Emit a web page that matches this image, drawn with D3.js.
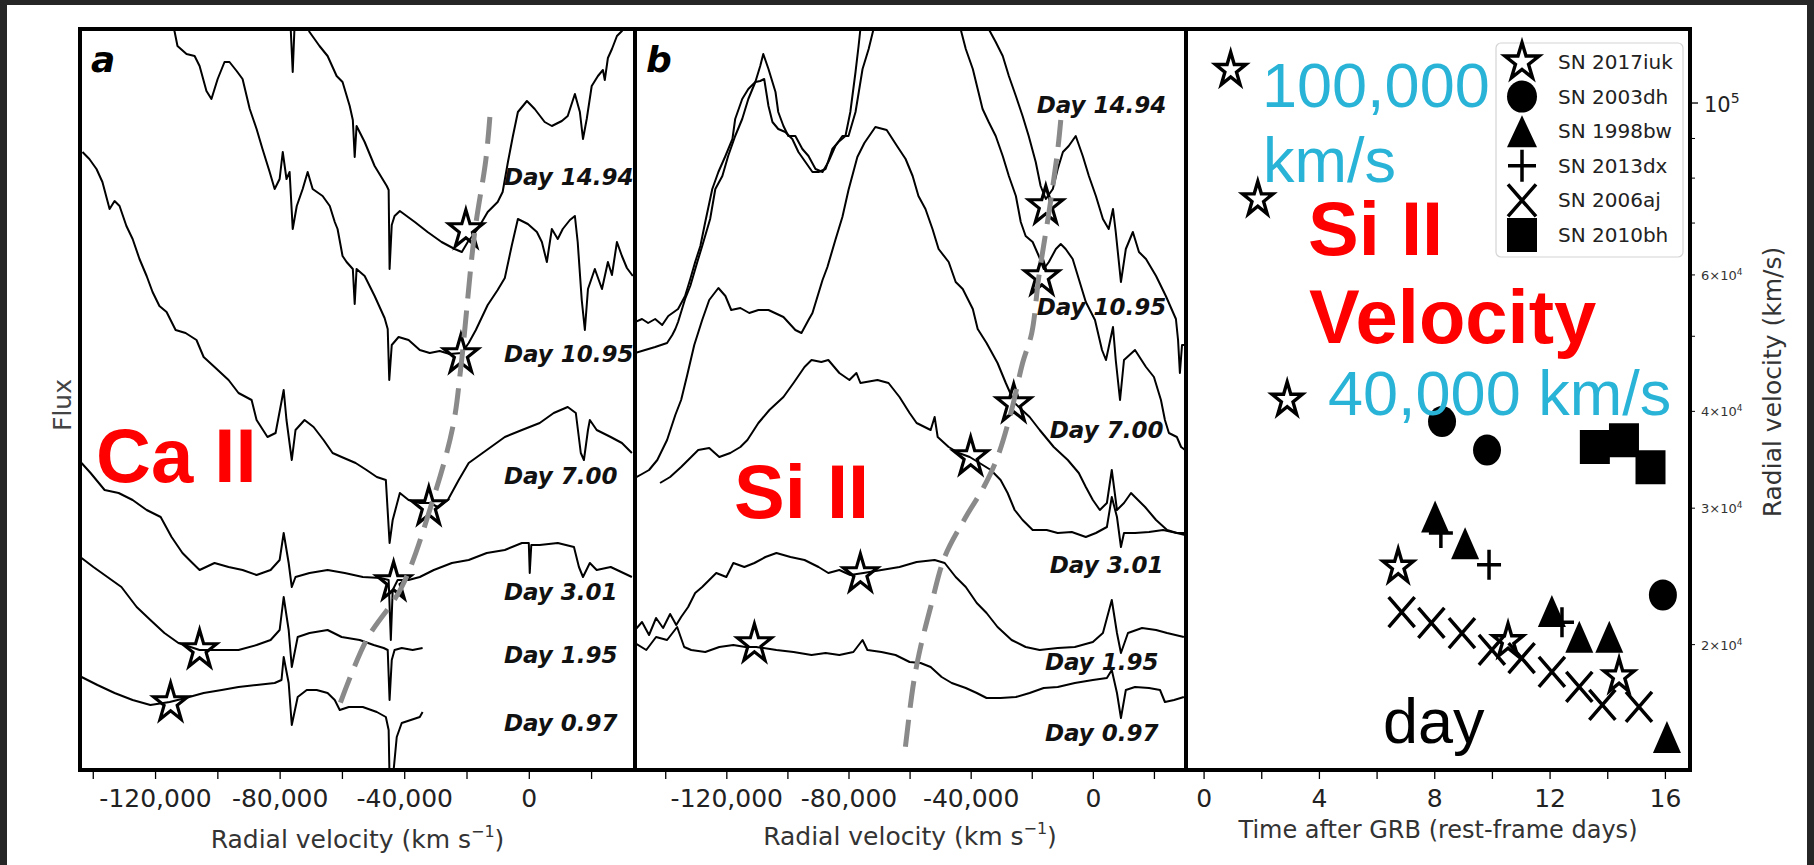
<!DOCTYPE html>
<html><head><meta charset="utf-8">
<script src="https://cdn.jsdelivr.net/npm/d3@7"></script>
<style>html,body{margin:0;padding:0;background:#fff;}svg{display:block;}</style>
</head><body>
<svg id="chart" width="1814" height="865"></svg>
<script>
// ===== DATA (velocity in 10^3 km/s, flux in arbitrary offset units) =====
// Panel a : Ca II
const caII_day1494 = [[-78.4,7.50],[-76.5,7.45],[-75.8,6.98],[-75.2,7.45],[-72.0,7.50],[-70.4,7.38],[-67.2,7.24],[-64.6,7.14],[-61.7,6.94],[-59.8,6.88],[-57.5,6.64],[-56.5,6.50],[-55.9,6.13],[-55.3,6.44],[-52.7,6.28],[-49.5,6.04],[-45.6,5.84],[-45.0,5.80],[-44.7,5.01],[-44.0,5.45],[-43.1,5.54],[-41.4,5.59],[-36.6,5.48],[-32.5,5.38],[-28.0,5.28],[-23.8,5.21],[-21.5,5.18],[-19.6,5.28],[-16.4,5.41],[-13.2,5.58],[-10.0,5.68],[-8.4,5.78],[-6.7,6.08],[-5.1,6.34],[-3.5,6.58],[-0.6,6.69],[1.9,6.61],[5.1,6.48],[7.4,6.44],[10.6,6.49],[12.5,6.54],[14.8,6.76],[16.4,6.58],[17.4,6.31],[18.6,6.51],[20.2,6.84],[22.2,6.94],[23.8,7.00],[24.4,6.90],[25.4,7.12],[26.7,7.21],[28.3,7.34],[29.9,7.39],[31.8,7.50]];
const caII_day1095 = [[-114.7,7.50],[-113.7,7.38],[-112.8,7.24],[-109.9,7.16],[-107.3,7.14],[-105.7,7.04],[-103.5,6.79],[-101.9,6.71],[-99.9,6.91],[-97.7,7.08],[-96.1,7.08],[-93.8,6.99],[-91.9,6.91],[-89.6,6.61],[-87.4,6.41],[-85.5,6.21],[-83.2,5.98],[-81.6,5.81],[-80.0,5.91],[-79.0,6.18],[-77.8,5.91],[-76.8,5.98],[-75.8,5.41],[-74.5,5.64],[-72.6,5.81],[-71.0,5.98],[-69.4,5.81],[-66.2,5.74],[-63.9,5.64],[-62.3,5.48],[-61.4,5.41],[-59.8,5.14],[-58.5,5.08],[-56.5,5.01],[-55.9,4.66],[-55.3,5.01],[-52.7,4.94],[-49.5,4.74],[-46.3,4.52],[-45.3,4.41],[-44.8,3.90],[-44.0,4.25],[-41.8,4.33],[-38.6,4.30],[-35.0,4.20],[-31.8,4.17],[-28.6,4.19],[-25.4,4.16],[-21.5,4.17],[-19.3,4.27],[-17.0,4.40],[-13.2,4.65],[-10.0,4.80],[-7.7,4.92],[-5.5,5.24],[-3.5,5.51],[-0.3,5.46],[2.6,5.38],[4.2,5.28],[5.8,5.08],[7.4,5.41],[9.3,5.31],[10.9,5.41],[13.2,5.50],[14.8,5.54],[15.7,5.28],[17.0,4.70],[18.0,4.40],[19.0,4.81],[21.2,5.01],[23.5,4.81],[25.4,5.08],[26.7,4.95],[28.3,5.28],[29.9,5.14],[31.5,5.02],[33.4,4.94]];
const caII_day700 = [[-143.3,6.18],[-141.1,6.11],[-138.8,6.01],[-136.9,5.88],[-134.6,5.61],[-133.0,5.69],[-131.4,5.64],[-129.2,5.44],[-127.2,5.31],[-125.0,5.11],[-122.7,4.94],[-120.8,4.78],[-118.6,4.64],[-116.3,4.58],[-113.4,4.40],[-110.2,4.37],[-106.7,4.30],[-104.4,4.13],[-100.9,4.03],[-96.4,3.90],[-93.2,3.77],[-89.0,3.70],[-87.4,3.50],[-83.9,3.33],[-81.3,3.37],[-78.7,3.80],[-77.8,3.50],[-76.1,3.10],[-74.9,3.40],[-72.0,3.50],[-69.1,3.43],[-65.9,3.30],[-63.0,3.17],[-60.1,3.13],[-55.6,3.07],[-52.1,3.00],[-48.8,2.93],[-45.9,2.90],[-44.7,2.27],[-43.7,2.50],[-41.4,2.77],[-38.6,2.70],[-35.0,2.67],[-31.8,2.67],[-29.2,2.63],[-26.0,2.70],[-22.5,2.90],[-19.3,3.07],[-13.5,3.20],[-7.7,3.33],[-2.2,3.40],[3.5,3.47],[8.0,3.57],[12.5,3.63],[15.1,3.57],[16.7,3.17],[17.7,3.10],[19.0,3.40],[19.6,3.50],[21.8,3.40],[26.3,3.33],[29.9,3.27],[33.1,3.17]];
const caII_day301 = [[-143.6,3.07],[-140.7,2.97],[-136.2,2.80],[-131.7,2.77],[-127.2,2.70],[-122.7,2.60],[-118.2,2.53],[-114.7,2.33],[-111.2,2.17],[-108.0,2.07],[-105.7,2.00],[-100.9,2.07],[-96.4,2.03],[-91.9,2.00],[-87.4,1.95],[-82.9,2.00],[-80.0,2.10],[-78.7,2.37],[-77.1,2.07],[-76.1,1.83],[-74.9,1.93],[-70.4,1.97],[-64.6,2.00],[-59.1,1.97],[-53.3,1.93],[-47.6,1.92],[-45.0,1.90],[-44.3,1.30],[-43.7,1.80],[-42.1,1.90],[-38.6,1.90],[-35.0,1.93],[-30.5,2.00],[-24.7,2.07],[-19.3,2.10],[-13.5,2.17],[-7.7,2.20],[-2.2,2.27],[0.0,2.27],[0.3,1.97],[0.8,2.25],[3.5,2.25],[9.3,2.27],[14.5,2.23],[16.1,2.03],[17.4,1.93],[19.6,2.07],[21.8,2.00],[26.3,2.03],[33.1,1.93]];
const caII_day195 = [[-143.6,2.12],[-139.8,2.03],[-135.3,1.93],[-130.8,1.83],[-125.9,1.63],[-121.5,1.50],[-117.0,1.37],[-112.5,1.27],[-105.7,1.20],[-98.6,1.20],[-93.2,1.20],[-87.4,1.25],[-82.9,1.30],[-80.0,1.40],[-78.7,1.73],[-77.1,1.40],[-76.1,1.03],[-74.2,1.33],[-70.4,1.37],[-64.6,1.40],[-60.1,1.33],[-54.3,1.30],[-49.8,1.25],[-46.6,1.22],[-45.3,1.20],[-44.7,0.70],[-44.0,1.10],[-43.1,1.20],[-40.8,1.22],[-37.3,1.20],[-34.1,1.22]];
const caII_day097 = [[-143.6,0.93],[-138.5,0.85],[-133.0,0.77],[-127.2,0.70],[-121.5,0.65],[-115.3,0.68],[-110.2,0.72],[-104.4,0.77],[-98.6,0.80],[-93.2,0.83],[-87.4,0.85],[-81.6,0.87],[-79.4,0.90],[-78.7,1.13],[-77.1,0.87],[-76.1,0.45],[-74.2,0.73],[-71.3,0.80],[-68.1,0.80],[-64.6,0.77],[-62.3,0.70],[-60.7,0.60],[-57.8,0.63],[-53.3,0.63],[-48.8,0.58],[-45.9,0.53],[-45.0,0.40],[-44.7,-0.10],[-43.7,-0.10],[-42.4,0.33],[-40.8,0.47],[-37.9,0.50],[-35.0,0.53],[-34.1,0.58]];
const caII_minima = [[-20.2,5.40],[-21.8,4.15],[-32.1,2.63],[-43.4,1.88],[-105.7,1.20],[-115.0,0.67]];
const caII_fit = [[-12.5,6.53],[-13.8,6.10],[-17.4,5.37],[-21.8,4.03],[-24.4,3.43],[-30.8,2.70],[-40.8,1.83],[-52.1,1.30],[-61.0,0.63]];
const caII_labelPos = [[-8.0,5.85],[-8.0,4.08],[-8.0,2.86],[-8.0,1.70],[-8.0,1.07],[-8.0,0.39]];

// Panel b : Si II
const siII_day1494 = [[-149.9,4.17],[-146.6,4.20],[-143.3,4.23],[-139.4,4.27],[-137.7,4.35],[-136.7,4.41],[-135.8,4.48],[-133.5,4.71],[-131.8,4.84],[-129.5,5.08],[-127.9,5.24],[-125.3,5.51],[-123.6,5.81],[-121.3,5.94],[-119.4,6.14],[-117.1,6.34],[-114.8,6.51],[-112.8,6.71],[-110.5,6.88],[-108.9,7.04],[-107.9,7.16],[-106.2,7.01],[-103.9,6.78],[-103.0,6.58],[-101.3,6.44],[-99.7,6.34],[-97.4,6.34],[-95.1,6.21],[-93.1,6.14],[-90.8,6.01],[-88.5,5.98],[-86.6,6.08],[-84.3,6.24],[-82.0,6.34],[-80.0,6.34],[-77.7,6.58],[-75.4,7.01],[-73.4,7.21],[-71.8,7.41],[-70.8,7.55],[-53.1,8.70],[-35.1,7.55],[-34.1,7.41],[-31.8,7.28],[-29.5,7.14],[-27.5,6.94],[-25.2,6.74],[-23.0,6.54],[-21.0,6.34],[-18.7,6.08],[-17.1,5.84],[-15.4,5.71],[-13.1,5.81],[-11.5,6.01],[-9.8,6.18],[-7.9,6.24],[-5.6,6.34],[-3.3,6.14],[-1.3,5.94],[1.0,5.74],[3.3,5.51],[5.2,5.41],[6.6,5.61],[7.5,5.38],[9.2,4.88],[10.8,5.21],[13.1,5.38],[15.1,5.18],[17.4,5.11],[20.7,4.94],[23.9,4.74],[27.2,4.51],[27.9,4.30],[28.5,3.97],[29.2,4.25],[30.2,4.25]];
const siII_day1095 = [[-149.9,4.48],[-147.6,4.51],[-145.6,4.47],[-143.3,4.51],[-141.0,4.45],[-139.0,4.54],[-135.8,4.61],[-133.5,4.74],[-131.8,4.91],[-130.2,5.08],[-128.5,5.24],[-126.9,5.48],[-124.6,5.81],[-122.6,5.98],[-120.3,6.14],[-118.0,6.31],[-117.1,6.51],[-114.8,6.71],[-112.8,6.81],[-110.5,6.88],[-108.9,6.89],[-107.6,6.91],[-106.2,6.64],[-104.9,6.48],[-103.0,6.41],[-100.7,6.38],[-98.4,6.31],[-96.4,6.18],[-94.1,6.08],[-91.8,5.98],[-89.8,5.98],[-87.5,6.01],[-85.3,6.21],[-83.3,6.28],[-81.0,6.34],[-79.4,6.58],[-77.7,6.98],[-76.7,7.24],[-76.1,7.41],[-75.4,7.55],[-59.7,8.70],[-44.3,7.55],[-43.3,7.41],[-41.6,7.21],[-39.3,7.01],[-37.7,6.81],[-36.1,6.61],[-34.1,6.48],[-31.8,6.34],[-29.5,6.14],[-27.5,5.94],[-25.2,5.74],[-23.6,5.48],[-22.0,5.34],[-19.7,5.28],[-17.7,5.14],[-16.1,5.01],[-14.4,5.08],[-12.1,5.21],[-10.5,5.26],[-8.9,5.21],[-6.6,5.11],[-4.6,4.91],[-2.3,4.68],[0.7,4.50],[3.0,4.20],[4.3,4.10],[6.6,4.43],[7.5,4.10],[8.9,3.70],[10.2,4.10],[13.8,4.20],[17.4,4.03],[20.0,3.93],[22.3,3.70],[23.6,3.50],[24.9,3.37],[27.5,3.33],[28.9,3.23],[30.2,3.20]];
const siII_day700 = [[-149.9,2.92],[-147.6,2.96],[-145.3,3.00],[-142.6,3.10],[-139.4,3.30],[-136.7,3.55],[-134.8,3.70],[-132.8,3.95],[-130.5,4.25],[-127.9,4.50],[-125.6,4.70],[-123.6,4.78],[-122.6,4.82],[-120.3,4.74],[-118.4,4.60],[-115.4,4.62],[-112.5,4.57],[-109.5,4.60],[-106.2,4.60],[-101.3,4.53],[-97.4,4.40],[-95.4,4.37],[-93.1,4.50],[-91.8,4.57],[-88.5,4.90],[-86.9,5.03],[-84.3,5.30],[-82.0,5.53],[-80.0,5.80],[-77.1,6.13],[-74.8,6.27],[-71.2,6.43],[-67.5,6.40],[-63.9,6.23],[-61.3,6.11],[-59.0,5.94],[-57.1,5.74],[-54.8,5.61],[-52.5,5.41],[-50.5,5.21],[-47.2,5.08],[-44.9,4.88],[-42.6,4.81],[-39.3,4.61],[-37.7,4.41],[-34.8,4.27],[-31.2,4.07],[-28.5,3.87],[-25.6,3.67],[-20.7,3.53],[-17.4,3.40],[-12.8,3.23],[-8.2,3.10],[-4.6,2.97],[-2.3,2.83],[0.0,2.70],[2.3,2.60],[4.6,2.67],[6.2,3.00],[7.9,2.60],[10.2,2.67],[12.5,2.77],[13.8,2.73],[17.1,2.63],[20.7,2.50],[24.3,2.40],[27.5,2.37],[30.2,2.37]];
const siII_day301 = [[-141.7,2.87],[-138.4,2.93],[-134.8,3.03],[-131.5,3.13],[-129.2,3.20],[-125.6,3.22],[-122.3,3.13],[-118.7,3.17],[-115.4,3.23],[-113.1,3.30],[-109.5,3.47],[-105.9,3.60],[-101.3,3.73],[-98.0,3.87],[-94.4,4.03],[-92.1,4.10],[-88.9,4.08],[-86.6,4.10],[-83.0,3.97],[-79.7,3.90],[-77.4,3.97],[-76.1,3.87],[-70.5,3.90],[-66.9,3.87],[-63.3,3.73],[-60.0,3.57],[-57.7,3.47],[-53.1,3.40],[-51.8,3.53],[-50.8,3.33],[-47.2,3.23],[-43.9,3.17],[-40.3,3.13],[-37.1,3.07],[-33.4,3.00],[-30.2,2.90],[-27.9,2.77],[-25.6,2.60],[-23.0,2.50],[-19.7,2.40],[-15.1,2.40],[-11.5,2.37],[-6.9,2.38],[-2.3,2.33],[1.0,2.37],[4.6,2.43],[6.2,2.73],[7.9,2.53],[9.2,2.23],[10.2,2.37],[13.8,2.37],[18.4,2.38],[23.0,2.40],[27.5,2.37],[30.2,2.35]];
const siII_day195 = [[-149.9,1.40],[-147.6,1.48],[-145.3,1.35],[-143.0,1.52],[-140.7,1.42],[-138.4,1.56],[-136.4,1.45],[-134.8,1.53],[-132.5,1.63],[-130.2,1.77],[-127.9,1.83],[-125.6,1.90],[-123.3,1.97],[-120.0,1.93],[-117.7,2.07],[-114.1,2.03],[-110.8,2.07],[-107.2,2.13],[-103.6,2.17],[-99.0,2.13],[-94.4,2.10],[-89.8,2.03],[-86.6,1.97],[-83.0,2.00],[-79.4,1.95],[-75.1,1.97],[-69.2,2.00],[-63.3,2.03],[-57.7,2.08],[-51.8,2.10],[-48.5,2.07],[-44.9,1.93],[-41.6,1.83],[-38.0,1.67],[-34.8,1.57],[-31.2,1.43],[-26.6,1.30],[-22.0,1.23],[-17.4,1.20],[-11.5,1.22],[-5.9,1.23],[0.0,1.28],[3.3,1.37],[6.2,1.70],[7.9,1.37],[9.2,1.17],[11.5,1.37],[16.1,1.42],[20.7,1.40],[24.3,1.37],[29.8,1.33]];
const siII_day097 = [[-149.9,1.27],[-146.2,1.20],[-143.0,1.33],[-139.4,1.30],[-136.1,1.43],[-133.8,1.23],[-131.5,1.20],[-126.9,1.18],[-122.3,1.23],[-117.7,1.25],[-113.8,1.23],[-110.2,1.23],[-103.6,1.20],[-98.0,1.18],[-92.1,1.15],[-87.5,1.17],[-83.0,1.15],[-78.4,1.18],[-75.4,1.30],[-73.8,1.20],[-69.2,1.18],[-64.6,1.15],[-60.0,1.08],[-56.4,1.07],[-53.1,1.03],[-49.5,0.93],[-46.2,0.87],[-41.6,0.82],[-38.0,0.77],[-34.8,0.72],[-30.2,0.72],[-25.2,0.73],[-20.7,0.77],[-16.1,0.82],[-11.5,0.83],[-5.9,0.87],[0.0,0.90],[4.6,0.92],[6.2,1.00],[7.9,0.77],[9.2,0.52],[10.8,0.80],[13.8,0.83],[18.4,0.82],[22.0,0.80],[23.6,0.68],[26.6,0.70],[29.8,0.73]];
const siII_minima = [[-15.4,5.64],[-16.7,4.93],[-25.9,3.66],[-40.0,3.13],[-76.1,1.96],[-110.8,1.26]];
const siII_fit = [[-10.5,6.50],[-11.5,6.20],[-14.1,5.63],[-17.7,4.93],[-20.0,4.37],[-23.0,4.07],[-26.6,3.60],[-31.2,3.13],[-35.7,2.83],[-41.6,2.53],[-48.5,2.13],[-53.1,1.63],[-56.4,1.23],[-58.7,0.87],[-61.6,0.17]];
const siII_labelPos = [[-18.4,6.57],[-18.4,4.55],[-14.1,3.32],[-14.1,1.97],[-15.7,1.00],[-15.7,0.29]];

const dayLabels = ["Day 14.94","Day 10.95","Day 7.00","Day 3.01","Day 1.95","Day 0.97"];

// Panel c : Si II velocity vs rest-frame time [days, km/s]
const sn2017iuk = [[0.94,110300],[1.88,75100],[2.90,41400],[6.75,25200],[10.56,20200],[14.41,18200]];
const sn2003dh  = [[8.27,38800],[9.83,35650],[15.93,23180]];
const sn1998bw  = [[8.03,29260],[9.07,27040],[12.08,22110],[13.03,20470],[14.07,20470],[16.07,15200]];
const sn2013dx  = [[8.23,27860],[9.90,25360],[12.43,21380]];
const sn2006aj  = [[6.87,22030],[7.90,21330],[8.96,20700],[10.00,19690],[11.03,19220],[12.08,18440],[13.03,17640],[13.83,16720],[15.10,16620]];
const sn2010bh  = [[13.57,35970],[14.58,36700],[15.50,33880]];
const legendNames = ["SN 2017iuk","SN 2003dh","SN 1998bw","SN 2013dx","SN 2006aj","SN 2010bh"];

// Ticks
const velocityTicks = [-140,-120,-100,-80,-60,-40,-20,0,20];
const velocityTickLabels = [-120,-80,-40,0];
const dayTicks = [0,2,4,6,8,10,12,14,16];
const dayTickLabels = [0,4,8,12,16];
const radVelMajor = [100000];
const radVelMinor = [20000,30000,40000,50000,60000,70000,80000,90000];
const radVelMinorLabeled = [20000,30000,40000,60000];

// ===== DRAWING =====
const FONT = "'DejaVu Sans', sans-serif";
const ARIAL = "'Liberation Sans', Arial, sans-serif";
const svg = d3.select("#chart");
svg.append("rect").attr("width",1814).attr("height",865).attr("fill","#fff");
// dark frame of the screenshot
svg.append("rect").attr("x",0).attr("y",0).attr("width",1814).attr("height",5).attr("fill","#262626");
svg.append("rect").attr("x",0).attr("y",0).attr("width",7).attr("height",865).attr("fill","#262626");
svg.append("rect").attr("x",1807).attr("y",0).attr("width",7).attr("height",865).attr("fill","#262626");

const top0 = 29, bot0 = 770;
const yFlux = d3.scaleLinear().domain([0,7.41]).range([bot0, top0]);
const xA = d3.scaleLinear().domain([-144.1,34.1]).range([80,635]);
const xB = d3.scaleLinear().domain([-149.9,30.5]).range([635,1186]);
const xC = d3.scaleLinear().domain([-0.61,16.87]).range([1186,1690]);
const yC = d3.scaleLog().domain([13780,124600]).range([bot0, top0]);

const defs = svg.append("defs");
function addClip(id, x){ const r = x.range(); defs.append("clipPath").attr("id",id).append("rect").attr("x",r[0]).attr("y",top0).attr("width",r[1]-r[0]).attr("height",bot0-top0); }
addClip("clipA", xA); addClip("clipB", xB); addClip("clipC", xC);

function starPath(R, sy){
  const r = R*0.381966, pts=[];
  for(let i=0;i<10;i++){ const a=-Math.PI/2+i*Math.PI/5, rr=(i%2)?r:R; pts.push([rr*Math.cos(a), rr*Math.sin(a)*sy]); }
  return "M"+pts.map(p=>p[0].toFixed(2)+","+p[1].toFixed(2)).join("L")+"Z";
}

function spectraPanel(clipId, x, spectra, minima, fit, labelPos, letter){
  const g = svg.append("g").attr("clip-path",`url(#${clipId})`);
  const line = d3.line().x(d=>x(d[0])).y(d=>yFlux(d[1]));
  g.selectAll(null).data(spectra).join("path").attr("d",line)
    .attr("fill","none").attr("stroke","#000").attr("stroke-width",2).attr("stroke-linejoin","round");
  g.selectAll(null).data(minima).join("path").attr("d",starPath(18,1.12))
    .attr("transform",d=>`translate(${x(d[0])},${yFlux(d[1])})`)
    .attr("fill","none").attr("stroke","#000").attr("stroke-width",3.2).attr("stroke-linejoin","miter");
  const fitLine = d3.line().curve(d3.curveCatmullRom).x(d=>x(d[0])).y(d=>yFlux(d[1]));
  g.append("path").datum(fit).attr("d",fitLine).attr("fill","none")
    .attr("stroke","#8a8a8a").attr("stroke-width",5).attr("stroke-dasharray","27,12");
  svg.selectAll(null).data(labelPos).join("text")
    .attr("x",d=>x(d[0])).attr("y",d=>yFlux(d[1]))
    .attr("font-family",FONT).attr("font-weight","bold").attr("font-style","italic")
    .attr("font-size",23).attr("fill","#111").text((d,i)=>dayLabels[i]);
  const r = x.range();
  svg.append("text").attr("x",r[0]+11).attr("y",72).attr("font-family",FONT)
    .attr("font-weight","bold").attr("font-style","italic").attr("font-size",36).attr("fill","#000").text(letter);
}

spectraPanel("clipA", xA, [caII_day1494,caII_day1095,caII_day700,caII_day301,caII_day195,caII_day097], caII_minima, caII_fit, caII_labelPos, "a");
spectraPanel("clipB", xB, [siII_day1494,siII_day1095,siII_day700,siII_day301,siII_day195,siII_day097], siII_minima, siII_fit, siII_labelPos, "b");

// ---- Panel c markers
const shapes = {
  star:  {d: starPath(16,1.12), fill:"none", sw:3.4},
  circle:{d: "M-14,0A14,15.5 0 1,0 14,0A14,15.5 0 1,0 -14,0Z", fill:"#000", sw:0},
  tri:   {d: "M0,-16L-14,16L14,16Z", fill:"#000", sw:0},
  plus:  {d: "M-12,0H12M0,-15V15", fill:"none", sw:3.5},
  cross: {d: "M-13,-15L13,15M-13,15L13,-15", fill:"none", sw:3.5},
  square:{d: "M-15,-17H15V17H-15Z", fill:"#000", sw:0}
};
const seriesC = [[sn2017iuk,shapes.star],[sn2003dh,shapes.circle],[sn1998bw,shapes.tri],[sn2013dx,shapes.plus],[sn2006aj,shapes.cross],[sn2010bh,shapes.square]];
const gC = svg.append("g").attr("clip-path","url(#clipC)");
seriesC.forEach(([data,sh])=>{
  gC.selectAll(null).data(data).join("path").attr("d",sh.d)
    .attr("transform",d=>`translate(${xC(d[0])},${yC(d[1])})`)
    .attr("fill",sh.fill).attr("stroke","#000").attr("stroke-width",sh.sw);
});
// legend
const leg = svg.append("g");
leg.append("rect").attr("x",1496).attr("y",43).attr("width",187).attr("height",214).attr("rx",5)
  .attr("fill","#fff").attr("fill-opacity",0.85).attr("stroke","#d4d4d4").attr("stroke-width",1.2);
const legShapes = [
  {d: starPath(18,1.08), fill:"none", sw:3.4},
  {d: "M-15,0A15,16 0 1,0 15,0A15,16 0 1,0 -15,0Z", fill:"#000", sw:0},
  {d: "M0,-16L-15,16L15,16Z", fill:"#000", sw:0},
  {d: "M-14,0H14M0,-16V16", fill:"none", sw:3.5},
  {d: "M-14,-16L14,16M-14,16L14,-16", fill:"none", sw:3.5},
  {d: "M-15,-17H15V17H-15Z", fill:"#000", sw:0}
];
legendNames.forEach((nm,i)=>{
  const yy = 62 + i*34.6;
  leg.append("path").attr("d",legShapes[i].d).attr("transform",`translate(1522,${yy})`)
    .attr("fill",legShapes[i].fill).attr("stroke","#000").attr("stroke-width",legShapes[i].sw);
  leg.append("text").attr("x",1558).attr("y",yy).attr("dominant-baseline","central")
    .attr("font-family",FONT).attr("font-size",20).attr("fill","#222").text(nm);
});

// ---- Panel borders
[xA,xB,xC].forEach(x=>{
  const r=x.range();
  svg.append("rect").attr("x",r[0]).attr("y",top0).attr("width",r[1]-r[0]).attr("height",bot0-top0)
    .attr("fill","none").attr("stroke","#000").attr("stroke-width",4);
});

// ---- X axes
const velFmt = v => v===0 ? "0" : "-" + d3.format(",")(Math.abs(v*1000));
function xAxis(scale, ticks, labeled, fmt){
  const ax = d3.axisBottom(scale).tickValues(ticks).tickSize(9).tickFormat(d => labeled.includes(d) ? fmt(d) : "");
  const g = svg.append("g").attr("transform",`translate(0,${bot0})`).call(ax);
  g.select(".domain").remove();
  g.selectAll(".tick line").attr("stroke","#000").attr("stroke-width",1.3);
  g.selectAll(".tick text").attr("font-family",FONT).attr("font-size",25).attr("fill","#222")
    .attr("dy",null).attr("y",37);
}
xAxis(xA, velocityTicks, velocityTickLabels, velFmt);
xAxis(xB, velocityTicks, velocityTickLabels, velFmt);
xAxis(xC, dayTicks, dayTickLabels, d=>String(d));

function velTitle(cx, y){
  const t = svg.append("text").attr("x",cx).attr("y",y).attr("text-anchor","middle")
    .attr("font-family",FONT).attr("font-size",25).attr("fill","#333");
  t.append("tspan").text("Radial velocity (km s");
  t.append("tspan").attr("font-size",16).attr("dy",-11).text("\u22121");
  t.append("tspan").attr("dy",11).text(")");
}
velTitle(357.5, 848);
velTitle(910, 845);
svg.append("text").attr("x",1438).attr("y",838).attr("text-anchor","middle")
  .attr("font-family",FONT).attr("font-size",24).attr("fill","#333").text("Time after GRB (rest-frame days)");

// Flux label
svg.append("text").attr("transform","translate(62,405) rotate(-90)").attr("text-anchor","middle")
  .attr("dominant-baseline","central").attr("font-family",FONT).attr("font-size",25).attr("fill","#444").text("Flux");

// ---- Right log axis (panel c)
svg.selectAll(null).data(radVelMajor).join("line").attr("x1",1690).attr("x2",1698)
  .attr("y1",d=>yC(d)).attr("y2",d=>yC(d)).attr("stroke","#000").attr("stroke-width",1.3);
svg.selectAll(null).data(radVelMinor).join("line").attr("x1",1690).attr("x2",1695)
  .attr("y1",d=>yC(d)).attr("y2",d=>yC(d)).attr("stroke","#000").attr("stroke-width",1);
radVelMajor.forEach(v=>{
  const t = svg.append("text").attr("x",1704).attr("y",yC(v)+9).attr("font-family",FONT).attr("font-size",21).attr("fill","#222");
  t.append("tspan").text("10");
  t.append("tspan").attr("font-size",14).attr("dy",-9).text(String(Math.round(Math.log10(v))));
});
radVelMinorLabeled.forEach(v=>{
  const e = Math.floor(Math.log10(v)), m = Math.round(v/Math.pow(10,e));
  const t = svg.append("text").attr("x",1701).attr("y",yC(v)+5).attr("font-family",FONT).attr("font-size",13).attr("fill","#333");
  t.append("tspan").text(m+"\u00d710");
  t.append("tspan").attr("font-size",9).attr("dy",-5).text(String(e));
});
svg.append("text").attr("transform","translate(1772,382) rotate(-90)").attr("text-anchor","middle")
  .attr("dominant-baseline","central").attr("font-family",FONT).attr("font-size",25).attr("fill","#333").text("Radial velocity (km/s)");

// ---- Overlay annotations
const RED="#ff0000", BLUE="#29b4d7";
function overlay(txt,x,y,size,color,bold){
  svg.append("text").attr("x",x).attr("y",y).attr("font-family",ARIAL).attr("font-size",size)
    .attr("font-weight",bold?"bold":"normal").attr("fill",color).text(txt);
}
overlay("Ca II", 96, 482, 76, RED, true);
overlay("Si II", 734, 518, 76, RED, true);
overlay("100,000", 1262, 107, 63, BLUE, false);
overlay("km/s", 1263, 182, 63, BLUE, false);
overlay("Si II", 1308, 255, 76, RED, true);
overlay("Velocity", 1309, 343, 76, RED, true);
overlay("40,000 km/s", 1328, 415, 63, BLUE, false);
overlay("day", 1383, 743, 63, "#000", false);
</script>
</body></html>
